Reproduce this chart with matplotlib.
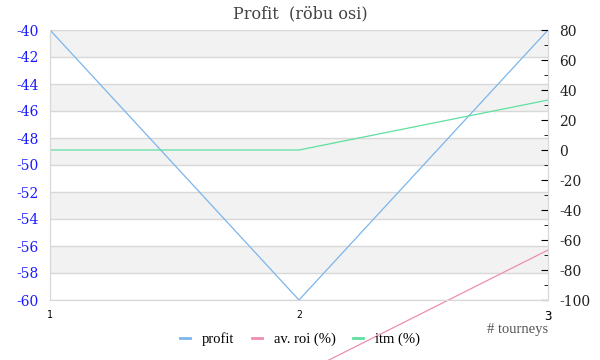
import matplotlib.pyplot as plt
from matplotlib.lines import Line2D
from matplotlib.ticker import MultipleLocator

plt.rcParams["axes.unicode_minus"] = False

# data
tourneys = [1, 2, 3]
profit = [-40, -60, -40]
av_roi = [-200, -150, -66.7]
itm = [0, 0, 33.3]

blue = "#7cb5ec"
pink = "#f08cb4"
green = "#5ee0a0"
grid_c = "#d8d8d8"

fig = plt.figure(figsize=(6, 3.6), dpi=100)
ax = fig.add_axes([50 / 600, 60 / 360, 498 / 600, 270 / 360])
ax2 = ax.twinx()

# alternating bands on the left axis
for lo in range(-58, -38, 4):
    ax.axhspan(lo, lo + 2, color="#f2f2f2", zorder=0, lw=0)
ax.set_ylim(-60, -40)
ax.set_xlim(1, 3)
ax.yaxis.set_major_locator(MultipleLocator(2))
ax.grid(axis="y", color=grid_c, lw=1, zorder=1)
ax.set_axisbelow(True)

ax.plot(tourneys, profit, color=blue, lw=0.9, zorder=3)

ax2.set_ylim(-100, 80)
ax2.yaxis.set_major_locator(MultipleLocator(20))
ax2.yaxis.set_minor_locator(MultipleLocator(10))
ax2.plot(tourneys, itm, color=green, lw=0.9)
ax2.plot(tourneys, av_roi, color=pink, lw=0.9, clip_on=False)

for a in (ax, ax2):
    for s in a.spines.values():
        s.set_color(grid_c)
    a.spines["top"].set_visible(False)

ax.tick_params(axis="y", length=0, labelcolor="#1a1aff", labelsize=10, pad=8)
for lab in ax.get_yticklabels():
    lab.set_fontfamily("DejaVu Serif")
ax.set_xticks(tourneys)
ax.set_xticklabels(["1", "2", "3"], fontfamily="DejaVu Sans Mono")
ax.tick_params(axis="x", length=0, labelsize=7, pad=7)
ax.get_xticklabels()[2].set_fontsize(9)

ax2.tick_params(axis="y", which="major", direction="in", length=5, color="black",
                labelsize=10, pad=8, labelcolor="#222222")
ax2.tick_params(axis="y", which="minor", direction="in", length=3, color="black")
for lab in ax2.get_yticklabels():
    lab.set_fontfamily("DejaVu Serif")

fig.text(0.5, 1 - 14 / 360, "Profit  (röbu osi)", ha="center", va="center",
         fontsize=11.5, color="#444444", fontfamily="DejaVu Serif")
fig.text(548 / 600, 1 - 329 / 360, "# tourneys", ha="right", va="center",
         fontsize=10.5, color="#555555", fontfamily="Liberation Serif")

handles = [Line2D([], [], color=c, lw=2) for c in (blue, pink, green)]
fig.legend(handles, ["profit", "av. roi (%)", "itm (%)"], loc="center",
           bbox_to_anchor=(0.5, 1 - 339 / 360), ncol=3, frameon=False,
           handlelength=0.7, handletextpad=0.8, columnspacing=1.2,
           prop={"family": "Liberation Serif", "size": 10.5})

fig.savefig("out.png", dpi=100)
